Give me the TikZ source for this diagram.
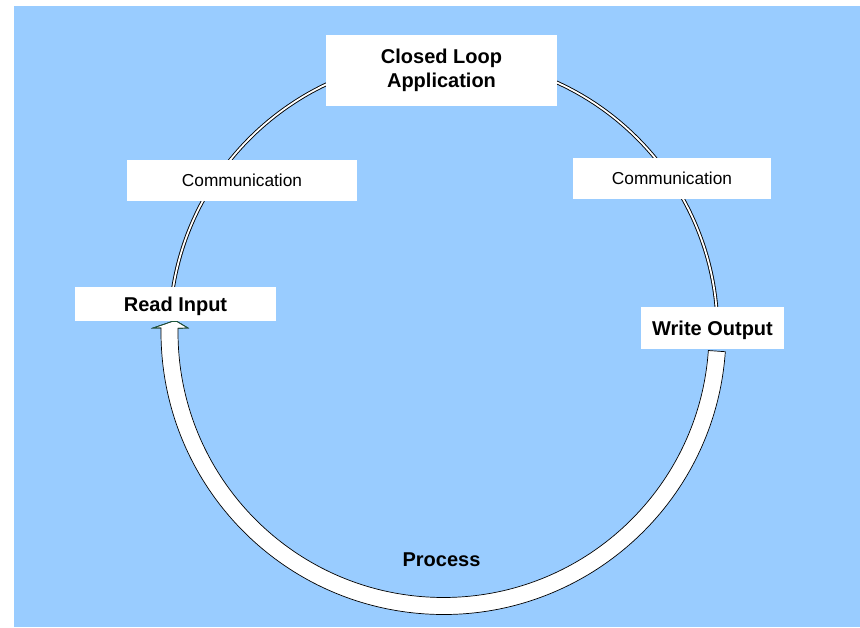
\documentclass[tikz,border=0pt]{standalone}
\usepackage{fontspec}
\setmainfont{Liberation Sans}
\usepackage{tikz}
\usetikzlibrary{positioning}
\definecolor{skyblue}{RGB}{153,204,255}
\definecolor{headgreen}{RGB}{30,90,60}

\begin{document}
\begin{tikzpicture}[x=1pt,y=1pt,
    box/.style={fill=white,inner sep=0pt,align=center},
    bigtext/.style={font=\fontsize{20}{24}\selectfont\bfseries},
    smalltext/.style={font=\fontsize{17.3}{20}\selectfont,text height=12.4pt,text depth=0pt},
    bandline/.style={line width=0.7pt}]
    \useasboundingbox (0,0) rectangle (860,627);
    \fill[skyblue] (14,0) rectangle (860,621);
    \coordinate (ctr) at (443.5,295);

    % thin loop (top)
    \draw[line width=0.9pt,double=white,double distance=1.8pt]
        ([shift={(176:274)}]ctr) arc[start angle=176,end angle=-2,radius=274];

    % wide band with arrow head
    \filldraw[fill=white,bandline]
        ([shift={(-4:282.5)}]ctr) arc[start angle=-4,end angle=-180.8,radius=282.5]
        -- (153,299) -- (172,305.5) -- (177,305.5) -- (188,299)
        -- ([shift={(-180.8:265.5)}]ctr) arc[start angle=-180.8,end angle=-4,radius=265.5]
        -- cycle;
    \draw[headgreen,bandline] ([shift={(-180.8:282.5)}]ctr) -- (153,299) -- (172,305.5)
        -- (177,305.5) -- (188,299) -- ([shift={(-180.8:265.5)}]ctr);

    \node[box,bigtext,minimum width=231pt,minimum height=71pt] (loop) at (441.5,556.5) {Closed Loop\\Application};
    \node[box,smalltext,minimum width=230pt,minimum height=41pt] (commL) at (242,446.5) {Communication};
    \node[box,smalltext,minimum width=198pt,minimum height=41pt] (commR) at (672,448.5) {Communication};
    \node[box,bigtext,text height=14.3pt,text depth=0pt,minimum width=201pt,minimum height=34pt] (readin) at (175.5,323) {Read Input};
    \node[box,bigtext,text height=14.3pt,text depth=0pt,minimum width=143pt,minimum height=42pt] (writeout) at (712.5,299) {Write Output};
    \node[bigtext,text height=14.3pt,text depth=0pt,inner sep=0pt] (process) at (441.5,68) {Process};
\end{tikzpicture}
\end{document}
